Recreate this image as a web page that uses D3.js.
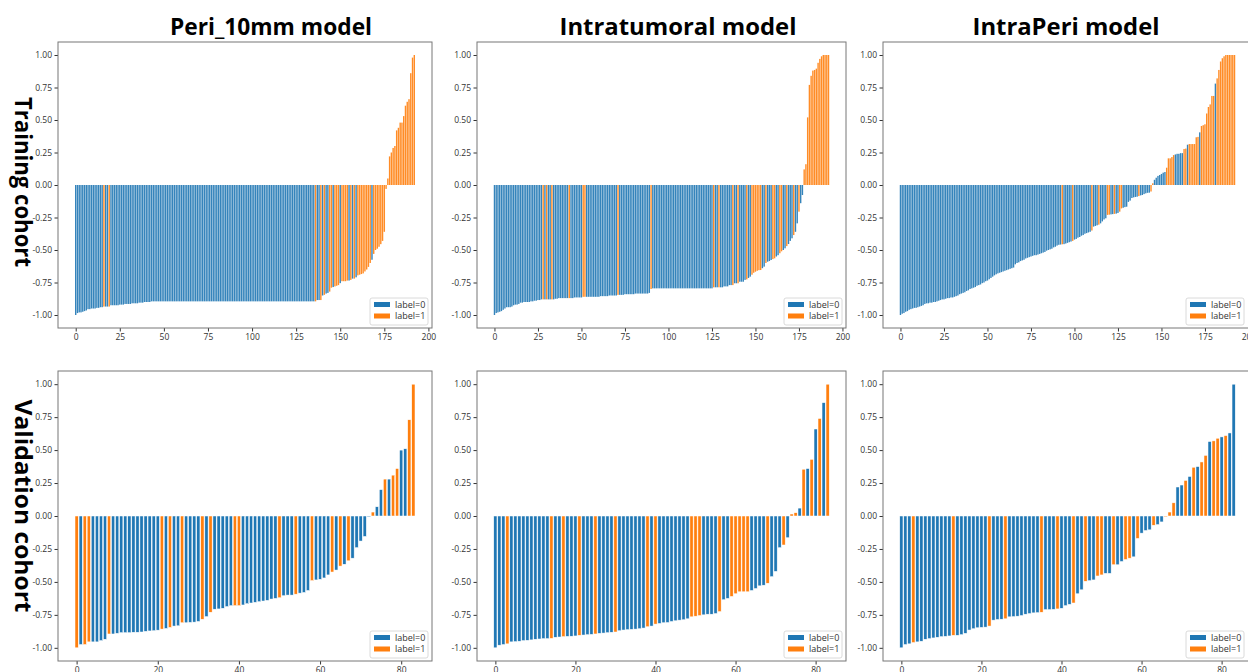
<!DOCTYPE html>
<html>
<head>
<meta charset="utf-8">
<script src="https://cdn.jsdelivr.net/npm/d3@7"></script>
<style>
  body { margin: 0; background: #fff; }
  svg { display: block; }
  .tick text { font-family: "Open Sans", sans-serif; font-size: 8.5px; fill: #333; }
  .tick line { stroke: #333; }
  .domain { display: none; }
</style>
</head>
<body>
<svg id="chart" width="1248" height="672"></svg>
<script>
// column titles and row titles
const modelNames = ["Peri_10mm model", "Intratumoral model", "IntraPeri model"];
const cohortNames = ["Training cohort", "Validation cohort"];
const legendLabels = ["label=0", "label=1"];
const yTicks = [-1, -0.75, -0.5, -0.25, 0, 0.25, 0.5, 0.75, 1];
const xTicksTrain = [0, 25, 50, 75, 100, 125, 150, 175, 200];
const xTicksVal = [0, 20, 40, 60, 80];

// training cohort, sorted scores (193 patients)
const periTrain = [
  -1.00,-0.985,-0.98,-0.98,-0.975,-0.97,-0.965,-0.955,-0.955,-0.95,
  -0.95,-0.95,-0.945,-0.945,-0.94,-0.94,-0.935,-0.935,-0.935,-0.935,
  -0.925,-0.925,-0.925,-0.925,-0.925,-0.92,-0.92,-0.92,-0.915,-0.915,
  -0.915,-0.915,-0.91,-0.91,-0.91,-0.91,-0.905,-0.905,-0.905,-0.90,
  -0.90,-0.90,-0.90,
  -0.895,-0.895,-0.895,-0.895,-0.895,-0.895,-0.895,-0.895,-0.895,-0.895,
  -0.895,-0.895,-0.895,-0.895,-0.895,-0.895,-0.895,-0.895,-0.895,-0.895,
  -0.895,-0.895,-0.895,-0.895,-0.895,-0.895,-0.895,-0.895,-0.895,-0.895,
  -0.895,-0.895,-0.895,-0.895,-0.895,-0.895,-0.895,-0.895,-0.895,-0.895,
  -0.895,-0.895,-0.895,-0.895,-0.895,-0.895,-0.895,-0.895,-0.895,-0.895,
  -0.895,-0.895,-0.895,-0.895,-0.895,-0.895,-0.895,-0.895,-0.895,-0.895,
  -0.895,-0.895,-0.895,-0.895,-0.895,-0.895,-0.895,-0.895,-0.895,-0.895,
  -0.895,-0.895,-0.895,-0.895,-0.895,-0.895,-0.895,-0.895,-0.895,-0.895,
  -0.895,-0.895,-0.895,-0.895,-0.895,-0.895,-0.895,-0.895,-0.895,-0.895,
  -0.895,-0.895,-0.895,-0.895,
  -0.885,-0.885,-0.885,
  -0.85,-0.845,-0.835,-0.83,-0.82,-0.79,-0.785,-0.78,-0.775,-0.77,
  -0.755,-0.74,-0.74,-0.74,-0.735,-0.735,-0.73,-0.72,-0.72,-0.71,
  -0.695,-0.69,-0.685,-0.68,-0.665,-0.65,-0.63,-0.60,-0.575,-0.53,
  -0.50,-0.49,-0.475,-0.455,-0.43,-0.36,-0.03,0.05,0.22,0.25,
  0.285,0.30,0.42,0.44,0.48,0.48,0.53,0.61,0.64,0.66,
  0.86,0.98,1.0
];
const periTrainPos = [16,19,136,139,141,144,145,147,148,149,151,152,153,154,156,158,
  160,161,162,163,164,165,166,167,169,170,171,172,173,174,175,176,177,178,179,180,
  181,182,183,184,185,186,187,188,189,190,191,192];

const intraTrain = [
  -1.00,-0.985,-0.98,-0.975,-0.97,-0.96,-0.95,-0.94,-0.94,-0.94,
  -0.935,-0.925,-0.92,-0.92,-0.915,-0.905,-0.905,-0.90,-0.90,-0.90,
  -0.90,-0.895,-0.895,-0.89,-0.89,-0.885,-0.885,-0.88,-0.88,-0.88,
  -0.88,-0.88,-0.88,-0.88,-0.88,-0.875,-0.875,-0.87,-0.87,-0.87,
  -0.87,-0.87,-0.87,-0.87,-0.87,-0.87,-0.865,-0.865,-0.865,-0.865,
  -0.865,-0.86,-0.86,-0.86,-0.86,-0.86,-0.86,-0.86,-0.86,-0.86,
  -0.86,-0.855,-0.855,-0.855,-0.855,-0.855,-0.85,-0.85,-0.85,-0.85,
  -0.85,-0.845,-0.845,-0.845,-0.845,-0.84,-0.84,-0.84,-0.84,-0.84,
  -0.84,-0.835,-0.835,-0.835,-0.835,-0.835,-0.835,-0.835,-0.835,-0.83,
  -0.80,-0.795,-0.795,-0.795,-0.795,-0.795,-0.795,-0.795,-0.795,-0.795,
  -0.795,-0.795,-0.795,-0.795,-0.795,-0.795,-0.795,-0.795,-0.795,-0.795,
  -0.795,-0.795,-0.795,-0.795,-0.795,-0.795,-0.795,-0.795,-0.795,-0.795,
  -0.795,-0.795,-0.795,-0.795,-0.795,-0.795,-0.787,-0.787,-0.787,-0.787,
  -0.787,-0.787,-0.78,-0.78,-0.78,-0.77,-0.77,-0.77,-0.756,-0.756,
  -0.756,-0.744,-0.744,-0.744,-0.73,-0.726,-0.715,-0.705,-0.69,-0.675,
  -0.667,-0.66,-0.655,-0.654,-0.64,-0.628,-0.60,-0.59,-0.585,-0.577,
  -0.57,-0.564,-0.55,-0.54,-0.525,-0.51,-0.50,-0.487,-0.47,-0.454,
  -0.43,-0.41,-0.385,-0.36,-0.295,-0.205,-0.14,-0.077,0.12,0.16,
  0.52,0.77,0.84,0.88,0.885,0.895,0.94,0.97,0.99,1.0,
  1.0,1.0,1.0
];
const intraTrainPos = [28,30,33,43,51,52,71,90,126,129,137,140,145,148,149,150,151,152,153,
  156,160,161,164,165,168,172,175,178,179,180,181,182,183,184,185,186,187,188,189,190,191,192];

const intraPeriTrain = [
  -1.00,-0.99,-0.985,-0.975,-0.97,-0.96,-0.955,-0.95,-0.945,-0.945,
  -0.94,-0.935,-0.93,-0.925,-0.915,-0.91,-0.91,-0.905,-0.905,-0.90,
  -0.90,-0.895,-0.89,-0.885,-0.88,-0.88,-0.875,-0.87,-0.87,-0.865,
  -0.865,-0.86,-0.855,-0.85,-0.84,-0.835,-0.83,-0.825,-0.815,-0.81,
  -0.80,-0.795,-0.79,-0.785,-0.775,-0.77,-0.765,-0.755,-0.75,-0.74,
  -0.735,-0.725,-0.715,-0.705,-0.695,-0.687,-0.68,-0.675,-0.67,-0.665,
  -0.66,-0.655,-0.65,-0.645,-0.64,-0.635,-0.61,-0.60,-0.595,-0.585,
  -0.58,-0.575,-0.565,-0.56,-0.555,-0.55,-0.545,-0.54,-0.54,-0.535,
  -0.53,-0.525,-0.52,-0.515,-0.505,-0.50,-0.495,-0.49,-0.48,-0.475,
  -0.466,-0.46,-0.458,-0.456,-0.455,-0.45,-0.445,-0.44,-0.435,-0.43,
  -0.42,-0.415,-0.405,-0.40,-0.39,-0.385,-0.375,-0.37,-0.365,-0.36,
  -0.35,-0.32,-0.315,-0.31,-0.305,-0.295,-0.28,-0.265,-0.256,-0.23,
  -0.228,-0.226,-0.224,-0.222,-0.22,-0.215,-0.205,-0.18,-0.175,-0.17,
  -0.167,-0.13,-0.12,-0.10,-0.095,-0.092,-0.09,-0.085,-0.08,-0.077,
  -0.07,-0.064,-0.06,-0.059,-0.05,0.013,0.04,0.056,0.07,0.077,
  0.085,0.095,0.10,0.133,0.205,0.205,0.215,0.23,0.235,0.24,
  0.24,0.245,0.245,0.277,0.28,0.31,0.315,0.315,0.315,0.315,
  0.367,0.37,0.405,0.454,0.46,0.467,0.55,0.60,0.62,0.685,
  0.685,0.78,0.82,0.885,0.95,0.975,0.99,1.0,1.0,1.0,
  1.0,1.0,1.0
];
const intraPeriTrainPos = [93,99,110,114,119,120,123,126,127,137,144,145,153,154,155,156,157,
  163,164,166,167,168,169,170,171,173,174,175,176,177,178,179,180,182,183,184,185,186,187,
  188,189,190,191,192];

// validation cohort, sorted scores (84 patients)
const periVal = [
  -1.0,-0.975,-0.975,-0.955,-0.955,-0.955,-0.945,-0.935,-0.895,-0.895,
  -0.89,-0.885,-0.885,-0.885,-0.882,-0.882,-0.88,-0.875,-0.872,-0.87,
  -0.866,-0.858,-0.853,-0.845,-0.835,-0.833,-0.81,-0.81,-0.807,-0.805,
  -0.80,-0.783,-0.763,-0.73,-0.707,-0.705,-0.70,-0.687,-0.68,-0.68,
  -0.68,-0.675,-0.665,-0.66,-0.655,-0.65,-0.645,-0.64,-0.63,-0.625,
  -0.62,-0.605,-0.60,-0.60,-0.593,-0.585,-0.58,-0.565,-0.49,-0.485,
  -0.48,-0.47,-0.447,-0.425,-0.41,-0.38,-0.366,-0.34,-0.32,-0.24,
  -0.19,-0.155,-0.005,0.03,0.07,0.2,0.28,0.28,0.31,0.36,
  0.5,0.51,0.73,1.0
];
const periValPos = [0,2,3,8,21,23,26,31,33,39,40,50,54,58,63,65,67,73,76,78,79,82,83];

const intraVal = [
  -1.0,-0.98,-0.975,-0.97,-0.955,-0.953,-0.95,-0.945,-0.943,-0.94,
  -0.935,-0.933,-0.93,-0.93,-0.928,-0.92,-0.918,-0.915,-0.913,-0.912,
  -0.91,-0.905,-0.903,-0.90,-0.898,-0.895,-0.89,-0.888,-0.885,-0.882,
  -0.88,-0.87,-0.865,-0.862,-0.86,-0.858,-0.855,-0.85,-0.84,-0.835,
  -0.82,-0.815,-0.81,-0.808,-0.80,-0.795,-0.79,-0.787,-0.78,-0.765,
  -0.76,-0.755,-0.75,-0.745,-0.745,-0.74,-0.725,-0.635,-0.625,-0.61,
  -0.59,-0.575,-0.575,-0.575,-0.565,-0.55,-0.53,-0.525,-0.51,-0.46,
  -0.42,-0.24,-0.22,-0.165,0.015,0.025,0.06,0.355,0.36,0.43,
  0.66,0.74,0.86,1.0
];
const intraValPos = [3,14,17,21,25,30,38,40,49,50,51,56,59,60,61,62,63,68,72,74,75,77,79,81,83];

const intraPeriVal = [
  -1.0,-0.975,-0.97,-0.96,-0.955,-0.95,-0.935,-0.93,-0.925,-0.92,
  -0.915,-0.913,-0.91,-0.905,-0.905,-0.90,-0.89,-0.865,-0.855,-0.848,
  -0.845,-0.843,-0.835,-0.79,-0.785,-0.783,-0.78,-0.765,-0.763,-0.76,
  -0.755,-0.745,-0.74,-0.735,-0.733,-0.73,-0.71,-0.71,-0.708,-0.705,
  -0.70,-0.68,-0.67,-0.66,-0.59,-0.56,-0.495,-0.49,-0.485,-0.455,
  -0.447,-0.435,-0.435,-0.37,-0.37,-0.345,-0.33,-0.32,-0.31,-0.17,
  -0.13,-0.11,-0.105,-0.07,-0.065,-0.045,-0.005,0.03,0.1,0.22,
  0.235,0.27,0.3,0.37,0.375,0.41,0.46,0.565,0.57,0.59,
  0.60,0.61,0.63,1.0
];
const intraPeriValPos = [3,13,22,26,35,39,43,46,49,50,53,56,57,59,63,66,67,68,71,73,75,76,78,79,81];

const colors = ["#1f77b4", "#ff7f0e"];

const svg = d3.select("#chart");
svg.append("rect").attr("width", 1248).attr("height", 672).attr("fill", "#fff");

const colFrames = [[58, 432], [477, 846], [883, 1252]];
const rowFrames = [[42, 328], [371, 661]];

const panels = [
  {vals: periTrain, pos: periTrainPos, col: 0, row: 0},
  {vals: intraTrain, pos: intraTrainPos, col: 1, row: 0},
  {vals: intraPeriTrain, pos: intraPeriTrainPos, col: 2, row: 0},
  {vals: periVal, pos: periValPos, col: 0, row: 1},
  {vals: intraVal, pos: intraValPos, col: 1, row: 1},
  {vals: intraPeriVal, pos: intraPeriValPos, col: 2, row: 1}
];

panels.forEach(p => {
  const [x0, x1] = colFrames[p.col];
  const [y0, y1] = rowFrames[p.row];
  const n = p.vals.length;
  const ones = new Set(p.pos);
  const data = p.vals.map((v, i) => ({i: i, v: v, label: ones.has(i) ? 1 : 0}));

  // matplotlib style 5% margins around bars of width 0.8
  const span = (n - 1) + 0.8;
  const x = d3.scaleLinear()
              .domain([-0.4 - span * 0.05, n - 1 + 0.4 + span * 0.05])
              .range([x0, x1]);
  const y = d3.scaleLinear().domain([-1.1, 1.1]).range([y1, y0]);

  const g = svg.append("g");

  g.selectAll("rect.bar")
   .data(data)
   .enter()
   .append("rect")
   .classed("bar", true)
   .attr("x", d => x(d.i - 0.4))
   .attr("width", d => x(d.i + 0.4) - x(d.i - 0.4))
   .attr("y", d => y(Math.max(0, d.v)))
   .attr("height", d => Math.abs(y(d.v) - y(0)))
   .attr("fill", d => colors[d.label])
   .attr("fill-opacity", p.row === 0 ? 0.9 : 1)
   .attr("stroke", p.row === 0 ? "none" : "#fff")
   .attr("stroke-width", 0.5);

  g.append("g")
   .attr("transform", `translate(${x0},0)`)
   .call(d3.axisLeft(y).tickValues(yTicks).tickSize(3.5).tickPadding(2.5)
           .tickFormat(d => d.toFixed(2)));

  g.append("g")
   .attr("transform", `translate(0,${y1})`)
   .call(d3.axisBottom(x).tickValues(p.row === 0 ? xTicksTrain : xTicksVal)
           .tickSize(3.5).tickPadding(2.5));

  g.append("rect")
   .attr("x", x0).attr("y", y0)
   .attr("width", x1 - x0).attr("height", y1 - y0)
   .attr("fill", "none").attr("stroke", "#777").attr("stroke-width", 1);

  // legend, lower right
  const lw = 58, lh = 27;
  const lx = Math.min(x1, 1248) - 4 - lw;
  const ly = y1 - 3 - lh;
  const leg = g.append("g").attr("transform", `translate(${lx},${ly})`);
  leg.append("rect")
     .attr("width", lw).attr("height", lh).attr("rx", 2)
     .attr("fill", "#fff").attr("fill-opacity", 0.85)
     .attr("stroke", "#d0d0d0").attr("stroke-width", 0.8);
  legendLabels.forEach((t, k) => {
    leg.append("rect")
       .attr("x", 4).attr("y", 4 + k * 11.5)
       .attr("width", 16).attr("height", 5)
       .attr("fill", colors[k]);
    leg.append("text")
       .attr("x", 25).attr("y", 9.8 + k * 11.5)
       .attr("font-family", "Open Sans, sans-serif")
       .attr("font-size", 9).attr("fill", "#333")
       .text(t);
  });
});

// column titles
const titleX = [271, 678, 1066];
const titleW = [202, 237, 187];
modelNames.forEach((t, k) => {
  svg.append("text")
     .attr("x", titleX[k]).attr("y", 35)
     .attr("text-anchor", "middle")
     .attr("font-family", "Open Sans, sans-serif")
     .attr("font-weight", "bold").attr("font-size", 23)
     .attr("textLength", titleW[k]).attr("lengthAdjust", "spacingAndGlyphs")
     .text(t);
});

// row titles, read top to bottom
const rowY = [182, 506];
const rowW = [170, 213];
cohortNames.forEach((t, k) => {
  svg.append("text")
     .attr("transform", `translate(15,${rowY[k]}) rotate(90)`)
     .attr("text-anchor", "middle")
     .attr("font-family", "Open Sans, sans-serif")
     .attr("font-weight", "bold").attr("font-size", 23)
     .attr("textLength", rowW[k]).attr("lengthAdjust", "spacingAndGlyphs")
     .text(t);
});
</script>
</body>
</html>
